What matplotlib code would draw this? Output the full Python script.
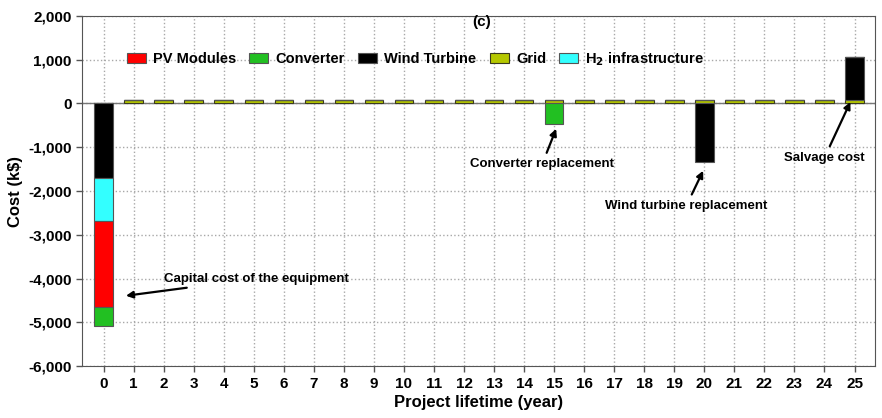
import matplotlib
matplotlib.use("Agg")
import matplotlib.pyplot as plt
import numpy as np

plt.rcParams['font.family'] = ['Liberation Sans', 'DejaVu Sans']
plt.rcParams['font.weight'] = 'bold'

years = list(range(0, 26))
# Cash flows per component (k$), negative = cost, positive = revenue
pv_modules = [-1960] + [0] * 25
converter = [-430] + [0] * 14 + [-480] + [0] * 10
wind_turbine = [-1700] + [0] * 19 + [-1340] + [0] * 4 + [970]
grid = [0] + [80] * 25
h2_infra = [-990] + [0] * 25

colors = {
    'PV Modules': '#ff0000',
    'Converter': '#22c022',
    'Wind Turbine': '#000000',
    'Grid': '#b5c800',
    'H$_2$ infrastructure': '#33ffff',
}

fig = plt.figure(figsize=(8.82, 4.18), dpi=100)
ax = fig.add_axes([0.093, 0.124, 0.899, 0.838])

x = np.array(years)
w = 0.62
wt = np.array(wind_turbine, float)
h2 = np.array(h2_infra, float)
pv = np.array(pv_modules, float)
cv = np.array(converter, float)
gd = np.array(grid, float)

# negative stack from zero downward: wind, H2, PV, converter
neg_bottom = np.zeros(len(x))
pos_bottom = np.zeros(len(x))

def stack(vals, label, color, edge='#555555'):
    global neg_bottom, pos_bottom
    b = np.where(vals < 0, neg_bottom, pos_bottom)
    ax.bar(x, vals, w, bottom=b, color=color, edgecolor=edge, linewidth=0.8,
           label=label, zorder=3)
    neg_bottom = np.where(vals < 0, neg_bottom + vals, neg_bottom)
    pos_bottom = np.where(vals > 0, pos_bottom + vals, pos_bottom)

stack(gd, 'Grid', colors['Grid'], edge='#3a3a20')
stack(wt, 'Wind Turbine', colors['Wind Turbine'])
stack(h2, 'H$_2$ infrastructure', colors['H$_2$ infrastructure'])
stack(pv, 'PV Modules', colors['PV Modules'])
stack(cv, 'Converter', colors['Converter'])

ax.axhline(0, color='#777777', lw=1.0, zorder=2)

ax.set_xlim(-0.72, 25.68)
ax.set_ylim(-6000, 2000)
ax.set_xticks(years)
ax.set_yticks(np.arange(-6000, 2001, 1000))
ax.set_yticklabels([f'{v:,}' for v in range(-6000, 2001, 1000)])
ax.tick_params(labelsize=11, width=1, length=4, color='#555555')
ax.grid(True, color='#a8a8a8', linestyle=':', linewidth=1.0, zorder=0)
for s in ax.spines.values():
    s.set_color('#555555')

ax.set_xlabel('Project lifetime (year)', fontsize=12, fontweight='bold', labelpad=3)
ax.set_ylabel('Cost (k$)', fontsize=12, fontweight='bold', labelpad=4)

ax.text(12.6, 1870, '(c)', ha='center', va='center', fontsize=11, fontweight='bold')

handles, labels = ax.get_legend_handles_labels()
order = ['PV Modules', 'Converter', 'Wind Turbine', 'Grid', 'H$_2$ infrastructure']
hmap = dict(zip(labels, handles))
ax.legend([hmap[k] for k in order], order, loc='upper left',
          bbox_to_anchor=(0.04, 0.94), ncol=5, frameon=False, fontsize=10.5,
          handlelength=1.3, handleheight=0.6, columnspacing=0.9, handletextpad=0.5)

arrow = dict(arrowstyle='-|>', color='black', lw=1.6, mutation_scale=10)
ax.annotate('Capital cost of the equipment', xy=(0.65, -4400), xytext=(2.0, -4000),
            fontsize=9.5, fontweight='bold', va='center', ha='left', arrowprops=arrow)
ax.annotate('Converter replacement', xy=(15.1, -520), xytext=(14.6, -1250),
            fontsize=9.5, fontweight='bold', va='top', ha='center', arrowprops=arrow)
ax.annotate('Wind turbine replacement', xy=(20.0, -1480), xytext=(19.4, -2200),
            fontsize=9.5, fontweight='bold', va='top', ha='center', arrowprops=arrow)
ax.annotate('Salvage cost', xy=(24.9, 90), xytext=(24.0, -1100),
            fontsize=9.5, fontweight='bold', va='top', ha='center', arrowprops=arrow)

fig.savefig('out.png', dpi=100)
